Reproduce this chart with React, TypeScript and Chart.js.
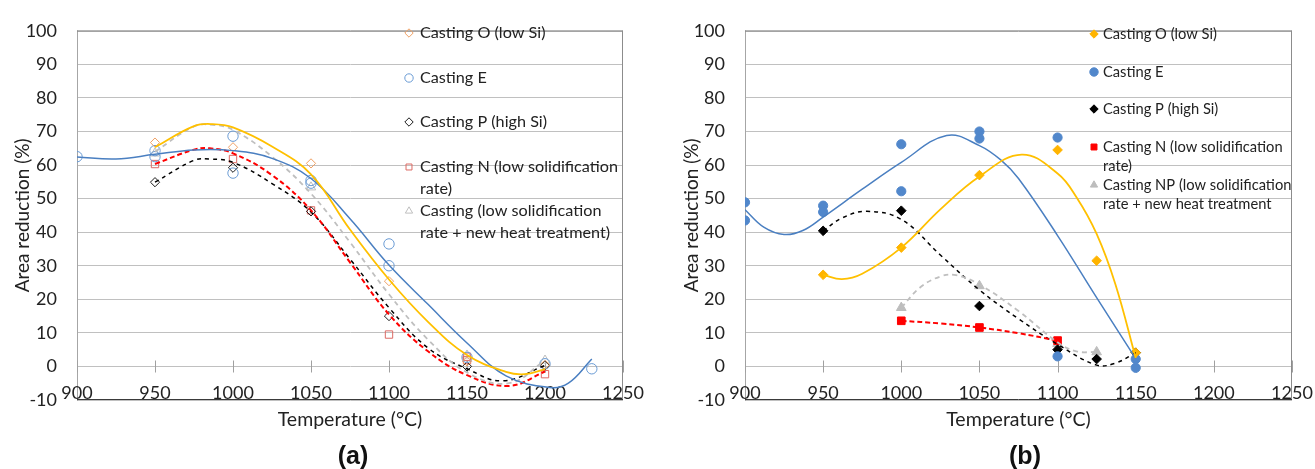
import React, { useEffect, useRef } from 'react';
import { Chart, registerables } from 'chart.js';
import { drawPoint } from 'chart.js/helpers';

Chart.register(...registerables);

const FONT = 'Lato, "Open Sans", sans-serif';
const TEXT = '#222222';

// ---------------- Panel (a): measured points ----------------
const A_O_T = [950, 1000, 1050, 1100, 1150, 1200];
const A_O_V = [66.7, 65.3, 60.5, 25.4, 1.5, 0.5];
const A_E_T = [900, 950, 950, 1000, 1000, 1050, 1050, 1100, 1100, 1150, 1200, 1230];
const A_E_V = [62.5, 64.3, 62.5, 68.6, 57.6, 55.4, 54.6, 36.5, 30.0, 2.7, 0.8, -0.7];
const A_P_T = [950, 1000, 1050, 1100, 1150, 1200];
const A_P_V = [54.9, 59.2, 46.2, 15.0, 0.0, 0.3];
const A_N_T = [950, 1000, 1050, 1100, 1150, 1150, 1200];
const A_N_V = [60.3, 61.8, 46.5, 9.5, 1.9, 2.9, -2.3];
const A_NP_T = [950, 1050, 1150, 1200];
const A_NP_V = [63.5, 53.4, 3.3, 1.8];

// Panel (a): trend lines
const A_O_TR_T = [950, 975, 987, 1000, 1025, 1050, 1075, 1100, 1125, 1150, 1175, 1187, 1200];
const A_O_TR_V = [65.3, 71.6, 72.2, 71.2, 65.5, 57.2, 40.8, 25.9, 13.3, 3.4, -1.6, -2.3, -0.8];
const A_E_TR_T = [900, 925, 950, 975, 1000, 1025, 1050, 1075, 1100, 1125, 1150, 1175, 1203, 1215, 1230];
const A_E_TR_V = [62.4, 61.8, 63.2, 64.5, 64.3, 62.0, 56.0, 44.0, 30.2, 18.5, 7.0, -2.8, -6.3, -5.0, 2.2];
const A_NP_TR_T = [950, 975, 987, 1000, 1025, 1050, 1075, 1100, 1125, 1150, 1177, 1200];
const A_NP_TR_V = [64.0, 71.5, 72.0, 70.5, 62.5, 51.5, 37.0, 21.5, 8.0, -1.8, -5.0, 1.8];
const A_N_TR_T = [950, 975, 985, 1000, 1025, 1050, 1075, 1100, 1125, 1150, 1177, 1200];
const A_N_TR_V = [60.3, 64.6, 65.0, 63.5, 57.0, 46.5, 31.0, 15.5, 4.5, -2.6, -5.8, -1.5];
const A_P_TR_T = [950, 975, 985, 1000, 1025, 1050, 1075, 1100, 1125, 1150, 1173, 1200];
const A_P_TR_V = [54.9, 61.4, 61.8, 60.8, 54.5, 46.0, 32.0, 17.5, 5.5, -0.7, -4.3, 0.3];

// ---------------- Panel (b): measured points ----------------
const B_O_T = [950, 1000, 1050, 1100, 1125, 1150];
const B_O_V = [27.3, 35.4, 57.0, 64.5, 31.5, 4.1];
const B_E_T = [900, 900, 950, 950, 1000, 1000, 1050, 1050, 1100, 1100, 1150, 1150];
const B_E_V = [48.9, 43.5, 47.9, 46.0, 66.2, 52.2, 70.0, 67.9, 68.2, 3.0, 2.2, -0.4];
const B_P_T = [950, 1000, 1050, 1100, 1125, 1150];
const B_P_V = [40.4, 46.4, 18.0, 5.0, 2.2, 4.1];
const B_N_T = [1000, 1050, 1100];
const B_N_V = [13.6, 11.6, 7.7];
const B_NP_T = [1000, 1050, 1100, 1125];
const B_NP_V = [17.5, 24.0, 6.8, 4.3];

// Panel (b): trend lines
const B_O_TR_T = [950, 962, 975, 1000, 1025, 1050, 1077, 1100, 1112, 1125, 1137, 1150];
const B_O_TR_V = [27.3, 26.0, 27.6, 35.4, 46.8, 56.6, 63.1, 57.5, 50.5, 39.5, 24.5, 2.5];
const B_E_TR_T = [900, 912, 925, 937, 950, 975, 1000, 1029, 1050, 1064, 1075, 1100, 1125, 1150];
const B_E_TR_V = [46.7, 41.5, 39.3, 40.5, 44.5, 52.8, 60.8, 68.8, 65.8, 61.4, 56.0, 39.0, 20.5, 2.3];
const B_P_TR_T = [950, 962, 978, 1000, 1025, 1050, 1075, 1100, 1125, 1137, 1150];
const B_P_TR_V = [40.4, 44.2, 46.2, 43.8, 33.2, 22.8, 14.2, 6.6, 0.4, 1.0, 4.1];
const B_N_TR_T = [1000, 1025, 1050, 1075, 1100];
const B_N_TR_V = [13.6, 12.8, 11.6, 9.9, 7.7];
const B_NP_TR_T = [1000, 1012, 1025, 1035, 1050, 1075, 1100, 1112, 1125];
const B_NP_TR_V = [17.5, 23.5, 26.8, 27.2, 24.4, 16.5, 7.2, 4.5, 4.3];

// Axis settings
const X_MIN = 900;
const X_MAX = 1250;
const X_STEP = 50;
const Y_MIN = -10;
const Y_MAX = 100;
const Y_STEP = 10;

// Legend texts
const LEGEND_A = [
  ['Casting O (low Si)'],
  ['Casting E'],
  ['Casting P (high Si)'],
  ['Casting N (low solidification', 'rate)'],
  ['Casting (low solidification', 'rate + new heat treatment)'],
];
const LEGEND_B = [
  ['Casting O (low Si)'],
  ['Casting E'],
  ['Casting P (high Si)'],
  ['Casting N (low solidification', 'rate)'],
  ['Casting NP (low solidification', 'rate + new heat treatment'],
];

const xy = (t: number[], v: number[]) => t.map((x, i) => ({ x, y: v[i] }));

type Mk = { style: string; color: string; radius: number; filled: boolean };

const COL = {
  yellow: '#FFC000',
  blue: '#4A7FC1',
  gray: '#BFBFBF',
  red: '#FF0000',
  black: '#000000',
};

const MK_A: Mk[] = [
  { style: 'rectRot', color: '#EFA064', radius: 4.6, filled: false },
  { style: 'circle', color: '#6A9BD4', radius: 5.2, filled: false },
  { style: 'rectRot', color: '#1a1a1a', radius: 4.6, filled: false },
  { style: 'rect', color: '#DC6A64', radius: 5.2, filled: false },
  { style: 'triangle', color: '#BFBFBF', radius: 5.4, filled: false },
];
const MK_B: Mk[] = [
  { style: 'rectRot', color: '#FFB400', radius: 4.8, filled: true },
  { style: 'circle', color: '#5187CB', radius: 4.6, filled: true },
  { style: 'rectRot', color: '#000000', radius: 4.8, filled: true },
  { style: 'rect', color: '#FF0000', radius: 5.4, filled: true },
  { style: 'triangle', color: '#BDBDBD', radius: 5.6, filled: true },
];

function pointSet(label: string, t: number[], v: number[], m: Mk) {
  return {
    label,
    data: xy(t, v),
    showLine: false,
    pointStyle: m.style,
    pointRadius: m.radius,
    pointBorderWidth: 1,
    pointBorderColor: m.color,
    pointBackgroundColor: m.filled ? m.color : 'rgba(0,0,0,0)',
    borderColor: m.color,
    backgroundColor: m.filled ? m.color : 'rgba(0,0,0,0)',
  };
}

function trendSet(label: string, t: number[], v: number[], color: string, dash: number[], width: number) {
  return {
    label,
    data: xy(t, v),
    showLine: true,
    borderColor: color,
    borderWidth: width,
    borderDash: dash,
    pointRadius: 0,
    tension: 0.4,
    fill: false,
  };
}

const framePlugin = {
  id: 'frame',
  beforeDatasetsDraw(chart: any) {
    const { ctx, chartArea: a, scales } = chart;
    const y0 = Math.round(scales.y.getPixelForValue(0)) + 0.5;
    ctx.save();
    // x tick labels (drawn inside the plot, just above the bottom line, as in the source)
    ctx.fillStyle = TEXT;
    ctx.font = `18px ${FONT}`;
    ctx.textAlign = 'center';
    ctx.textBaseline = 'alphabetic';
    scales.x.ticks.forEach((t: any) => {
      ctx.fillText(String(t.value), scales.x.getPixelForValue(t.value), a.bottom - 1);
    });
    ctx.lineWidth = 1;
    ctx.strokeStyle = '#8c8c8c';
    ctx.beginPath();
    ctx.moveTo(a.left, a.top + 0.5);
    ctx.lineTo(a.right, a.top + 0.5);
    ctx.moveTo(a.right - 0.5, a.top);
    ctx.lineTo(a.right - 0.5, a.bottom);
    ctx.stroke();
    ctx.strokeStyle = '#3a3a3a';
    ctx.beginPath();
    ctx.moveTo(a.left, a.bottom - 0.5);
    ctx.lineTo(a.right, a.bottom - 0.5);
    ctx.stroke();
    ctx.strokeStyle = '#a0a0a0';
    ctx.beginPath();
    scales.x.ticks.forEach((t: any) => {
      const x = Math.round(scales.x.getPixelForValue(t.value)) + 0.5;
      ctx.moveTo(x, y0 - 6);
      ctx.lineTo(x, y0 + 6);
    });
    ctx.stroke();
    ctx.restore();
  },
};

function legendPlugin(texts: string[][], marks: Mk[], mx: number, tx: number, ys: number[], gap: number, size: number) {
  return {
    id: 'insideLegend',
    afterDraw(chart: any) {
      const ctx = chart.ctx;
      ctx.save();
      texts.forEach((lines, i) => {
        const m = marks[i];
        ctx.fillStyle = m.filled ? m.color : 'rgba(0,0,0,0)';
        ctx.strokeStyle = m.color;
        ctx.lineWidth = 1;
        drawPoint(ctx, { pointStyle: m.style as any, radius: 4.2, borderWidth: 1, rotation: 0 } as any, mx, ys[i]);
        ctx.fillStyle = TEXT;
        ctx.font = `${size}px ${FONT}`;
        ctx.textBaseline = 'middle';
        ctx.textAlign = 'left';
        lines.forEach((s, j) => ctx.fillText(s, tx, ys[i] + j * gap));
      });
      ctx.restore();
    },
  };
}

type PanelProps = {
  left: number;
  width: number;
  yWidth: number;
  rightPad: number;
  yTitlePad: number;
  datasets: any[];
  legend: any;
};

function Panel({ left, width, yWidth, rightPad, yTitlePad, datasets, legend }: PanelProps) {
  const ref = useRef<HTMLCanvasElement>(null);
  useEffect(() => {
    const chart = new Chart(ref.current as HTMLCanvasElement, {
      type: 'scatter',
      data: { datasets },
      options: {
        animation: false,
        responsive: false,
        maintainAspectRatio: false,
        layout: { padding: { left: 0, top: 21, right: rightPad, bottom: 0 } },
        plugins: { legend: { display: false }, tooltip: { enabled: false } },
        scales: {
          x: {
            type: 'linear',
            min: X_MIN,
            max: X_MAX,
            grid: { display: false, drawTicks: false },
            border: { display: false },
            ticks: { stepSize: X_STEP, display: false },
            title: {
              display: true,
              text: 'Temperature (°C)',
              color: TEXT,
              font: { family: FONT, size: 19.5 },
              padding: { top: 0, bottom: 37.3 },
            },
            afterFit: (s: any) => {
              s.height = 69;
            },
          },
          y: {
            type: 'linear',
            min: Y_MIN,
            max: Y_MAX,
            grid: { color: '#c0c0c0', drawTicks: false, lineWidth: 1 },
            border: { display: true, color: '#a6a6a6', width: 1 },
            ticks: {
              stepSize: Y_STEP,
              padding: 20,
              color: TEXT,
              font: { family: FONT, size: 18 },
            },
            title: {
              display: true,
              text: 'Area reduction (%)',
              color: TEXT,
              font: { family: FONT, size: 19 },
              padding: { top: yTitlePad, bottom: 0 },
            },
            afterFit: (s: any) => {
              s.width = yWidth;
            },
          },
        },
      },
      plugins: [framePlugin, legend],
    } as any);
    return () => chart.destroy();
  }, []);
  return (
    <div style={{ position: 'absolute', left, top: 0, width, height: 469 }}>
      <canvas ref={ref} width={width} height={469} style={{ display: 'block' }} />
    </div>
  );
}

const datasetsA = [
  trendSet('Trend O', A_O_TR_T, A_O_TR_V, COL.yellow, [], 1.8),
  trendSet('Trend E', A_E_TR_T, A_E_TR_V, COL.blue, [], 1.5),
  trendSet('Trend NP', A_NP_TR_T, A_NP_TR_V, COL.gray, [5, 4], 1.8),
  trendSet('Trend N', A_N_TR_T, A_N_TR_V, COL.red, [5, 3], 2),
  trendSet('Trend P', A_P_TR_T, A_P_TR_V, COL.black, [4, 4], 1.5),
  pointSet(LEGEND_A[0][0], A_O_T, A_O_V, MK_A[0]),
  pointSet(LEGEND_A[1][0], A_E_T, A_E_V, MK_A[1]),
  pointSet(LEGEND_A[2][0], A_P_T, A_P_V, MK_A[2]),
  pointSet(LEGEND_A[3].join(' '), A_N_T, A_N_V, MK_A[3]),
  pointSet(LEGEND_A[4].join(' '), A_NP_T, A_NP_V, MK_A[4]),
];

const datasetsB = [
  trendSet('Trend O', B_O_TR_T, B_O_TR_V, COL.yellow, [], 1.8),
  trendSet('Trend E', B_E_TR_T, B_E_TR_V, COL.blue, [], 1.5),
  trendSet('Trend NP', B_NP_TR_T, B_NP_TR_V, COL.gray, [5, 4], 1.8),
  trendSet('Trend N', B_N_TR_T, B_N_TR_V, COL.red, [5, 3], 2),
  trendSet('Trend P', B_P_TR_T, B_P_TR_V, COL.black, [4, 4], 1.5),
  pointSet(LEGEND_B[0][0], B_O_T, B_O_V, MK_B[0]),
  pointSet(LEGEND_B[1][0], B_E_T, B_E_V, MK_B[1]),
  pointSet(LEGEND_B[2][0], B_P_T, B_P_V, MK_B[2]),
  pointSet(LEGEND_B[3].join(' '), B_N_T, B_N_V, MK_B[3]),
  pointSet(LEGEND_B[4].join(' '), B_NP_T, B_NP_V, MK_B[4]),
];

const legendA = legendPlugin(LEGEND_A, MK_A, 409, 420, [33, 78, 122, 167, 211], 22, 16.2);
const legendB = legendPlugin(LEGEND_B, MK_B, 434, 443, [34, 72, 109, 147, 185], 19.5, 14.7);

const tagStyle = (x: number): React.CSSProperties => ({
  position: 'absolute',
  left: x,
  top: 455,
  transform: 'translate(-50%, -50%)',
  fontFamily: '"Liberation Sans", Arial, sans-serif',
  fontWeight: 'bold',
  fontSize: 25,
  color: '#111',
  whiteSpace: 'nowrap',
});

export default function App() {
  return (
    <div style={{ position: 'absolute', left: 0, top: 0, width: 1315, height: 469, background: '#fff', overflow: 'hidden' }}>
      <Panel left={0} width={660} yWidth={77} rightPad={37} yTitlePad={11.6} datasets={datasetsA} legend={legendA} />
      <Panel left={660} width={655} yWidth={85} rightPad={23} yTitlePad={20.6} datasets={datasetsB} legend={legendB} />
      <div style={tagStyle(353)}>(a)</div>
      <div style={tagStyle(1025)}>(b)</div>
    </div>
  );
}
